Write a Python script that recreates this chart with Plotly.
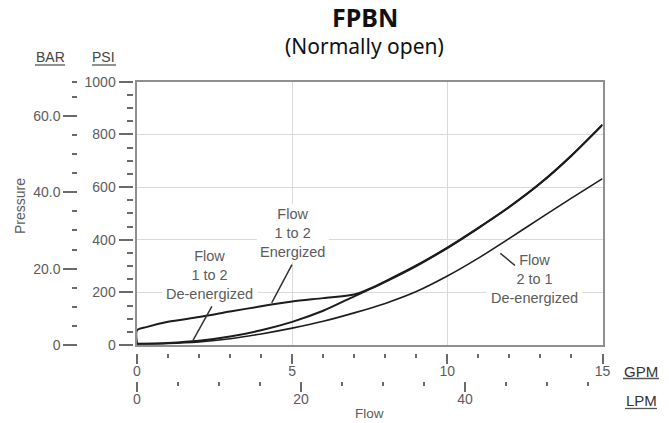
import numpy as np
import plotly.graph_objects as go

# ---------------- data ----------------
GPM_ENERGIZED = [0, 0, 0.3, 1, 2, 3, 4, 5, 6, 7, 7.5, 8, 9, 10, 11, 12, 13, 14, 15]
PSI_ENERGIZED = [5, 56, 68, 88, 106, 127, 147, 165, 178, 192, 214, 242, 302, 370, 445, 525, 615, 720, 837]

GPM_DEENERGIZED = [0, 1, 2, 3, 4, 5, 6, 7, 7.5, 8, 9, 10, 11, 12, 13, 14, 15]
PSI_DEENERGIZED = [5, 8, 16, 32, 56, 88, 130, 185, 212, 240, 300, 368, 444, 524, 614, 719, 836]

GPM_REVERSE = [0, 1, 2, 3, 4, 5, 6, 7, 8, 9, 10, 11, 12, 13, 14, 15]
PSI_REVERSE = [4, 6, 12, 24, 42, 64, 90, 122, 158, 203, 262, 330, 405, 482, 558, 632]

GPM_TICKS = [0, 5, 10, 15]
LPM_TICKS = [0, 20, 40]
PSI_TICKS = [0, 200, 400, 600, 800, 1000]
BAR_TICKS = [0, 20, 40, 60]
BAR_TICK_LABELS = ["0", "20.0", "40.0", "60.0"]

LABEL_ENERGIZED = "Flow<br>1 to 2<br>Energized"
LABEL_DEENERGIZED = "Flow<br>1 to 2<br>De-energized"
LABEL_REVERSE = "Flow<br>2 to 1<br>De-energized"

GAL_TO_L = 3.78541
PSI_PER_BAR = 14.5038
GPM_MAX = 15
PSI_MAX = 1000

# ---------------- styles ----------------
W, H = 669, 423
GRAY = "#5c5c5c"
TICK = "#6a6a6a"
FONT = "Liberation Sans"
LINE = "#1c1c1c"

def px_x(p):
    return p / W

def px_y(p):
    return (H - p) / H

XDOM = [px_x(137), px_x(602.5)]
YDOM = [px_y(345), px_y(81.7)]
GPM_PER_PX = GPM_MAX / (602.5 - 137)
PSI_PER_PX = PSI_MAX / (345 - 81.7)

fig = go.Figure()
for gx, gy, w in [(GPM_ENERGIZED, PSI_ENERGIZED, 2.0),
                  (GPM_DEENERGIZED, PSI_DEENERGIZED, 2.0),
                  (GPM_REVERSE, PSI_REVERSE, 1.6)]:
    fig.add_trace(go.Scatter(x=gx, y=gy, mode="lines",
                             line=dict(color=LINE, width=w, shape="spline", smoothing=0.8),
                             hoverinfo="skip", showlegend=False, cliponaxis=False))

# empty traces so that the secondary tick axes get drawn
for xa, ya in [("x2", "y"), ("x3", "y"), ("x", "y2"), ("x", "y3")]:
    fig.add_trace(go.Scatter(x=[], y=[], xaxis=xa, yaxis=ya, mode="lines",
                             hoverinfo="skip", showlegend=False))

lpm_max = GPM_MAX * GAL_TO_L
bar_max = PSI_MAX / PSI_PER_BAR

tickfont = dict(family=FONT, size=14, color=GRAY)

fig.update_layout(
    width=W, height=H, autosize=False,
    margin=dict(l=0, r=0, t=0, b=0, autoexpand=False),
    paper_bgcolor="white", plot_bgcolor="white",
    showlegend=False,
    xaxis=dict(domain=XDOM, range=[0, GPM_MAX], showgrid=True, dtick=5, gridcolor="#d9d9d9",
               gridwidth=1, showline=True, mirror=True, linecolor="#8f8f8f", linewidth=1.5,
               ticks="", showticklabels=False, zeroline=False, fixedrange=True),
    yaxis=dict(domain=YDOM, range=[0, PSI_MAX], showgrid=True, dtick=200, gridcolor="#d9d9d9",
               gridwidth=1, showline=True, mirror=True, linecolor="#8f8f8f", linewidth=1.5,
               ticks="", showticklabels=False, zeroline=False, fixedrange=True),
    # GPM tick axis
    xaxis2=dict(overlaying="x", anchor="free", position=px_y(352.5), side="bottom",
                range=[0, GPM_MAX], showline=False, showgrid=False, zeroline=False,
                tickmode="array", tickvals=GPM_TICKS, ticks="outside", ticklen=10,
                ticklabelstandoff=-4,
                tickwidth=1.5, tickcolor=TICK, tickfont=tickfont, fixedrange=True,
                minor=dict(tickmode="array", tickvals=list(np.arange(0, GPM_MAX + 0.01, 1)),
                           ticks="outside", ticklen=4, tickwidth=1.5, tickcolor=TICK, showgrid=False)),
    # LPM tick axis
    xaxis3=dict(overlaying="x", anchor="free", position=px_y(380.5), side="bottom",
                range=[0, lpm_max], showline=False, showgrid=False, zeroline=False,
                tickmode="array", tickvals=LPM_TICKS, ticks="outside", ticklen=10,
                ticklabelstandoff=-4,
                tickwidth=1.5, tickcolor=TICK, tickfont=tickfont, fixedrange=True,
                minor=dict(tickmode="array", tickvals=list(np.arange(0, lpm_max, 5)),
                           ticks="outside", ticklen=4, tickwidth=1.5, tickcolor=TICK, showgrid=False)),
    # PSI tick axis
    yaxis2=dict(overlaying="y", anchor="free", position=px_x(132.5), side="left",
                range=[0, PSI_MAX], showline=False, showgrid=False, zeroline=False,
                tickmode="array", tickvals=PSI_TICKS, ticks="outside", ticklen=14,
                tickwidth=1.5, tickcolor=TICK, tickfont=tickfont, fixedrange=True,
                minor=dict(tickmode="array", tickvals=list(np.arange(0, PSI_MAX + 1, 50)),
                           ticks="outside", ticklen=5.5, tickwidth=1.5, tickcolor=TICK, showgrid=False)),
    # BAR tick axis
    yaxis3=dict(overlaying="y", anchor="free", position=px_x(77.3), side="left",
                range=[0, bar_max], showline=False, showgrid=False, zeroline=False,
                tickmode="array", tickvals=BAR_TICKS, ticktext=BAR_TICK_LABELS, ticks="outside",
                ticklen=14, tickwidth=1.5, tickcolor=TICK, tickfont=tickfont, fixedrange=True,
                minor=dict(tickmode="array",
                           tickvals=list(np.arange(0, bar_max, 5)) + [bar_max],
                           ticks="outside", ticklen=5.5, tickwidth=1.5, tickcolor=TICK, showgrid=False)),
)

ann = []
def pann(text, xc, yc, size, color, family=FONT, angle=0):
    ann.append(dict(text=text, x=px_x(xc), y=px_y(yc), xref="paper", yref="paper",
                    xanchor="center", yanchor="middle", showarrow=False, textangle=angle,
                    font=dict(family=family, size=size, color=color)))

# titles
pann("<b>FPBN</b>", 365, 17, 25, "#111", "Noto Sans")
pann("(Normally open)", 365, 46, 21, "#111", "Noto Sans")
# axis headings
pann("BAR", 50, 57, 14, "#444")
pann("PSI", 104, 57, 14, "#444")
pann("GPM", 641, 371, 15, "#333")
pann("LPM", 641, 400, 15, "#333")
pann("Pressure", 20, 206, 14, GRAY, angle=-90)
pann("Flow", 369, 413, 13.5, GRAY)

# curve labels (data coords); white boxes behind them hide gridlines but not curves
lab_font = dict(family=FONT, size=14.5, color=GRAY)
shapes = []
for t, xd, yd, half_w in [(LABEL_ENERGIZED, 5.02, 425, 36), (LABEL_DEENERGIZED, 2.35, 266, 48),
                          (LABEL_REVERSE, 12.8, 251, 48)]:
    ann.append(dict(text=t, x=xd, y=yd, xref="x", yref="y", xanchor="center", yanchor="middle",
                    showarrow=False, font=lab_font))
    shapes.append(dict(type="rect", xref="x", yref="y", layer="between",
                       x0=xd - half_w * GPM_PER_PX, x1=xd + half_w * GPM_PER_PX,
                       y0=yd - 29 * PSI_PER_PX, y1=yd + 29 * PSI_PER_PX,
                       fillcolor="white", line=dict(width=0)))

# leader lines
for x0, y0, x1, y1 in [(5.02, 311, 4.34, 160), (2.44, 152, 1.80, 17), (11.66, 353, 12.18, 302)]:
    ann.append(dict(text="", x=x1, y=y1, ax=x0, ay=y0, xref="x", yref="y", axref="x", ayref="y",
                    showarrow=True, arrowhead=0, arrowwidth=1.5, arrowcolor="#333",
                    standoff=0, startstandoff=0))
fig.update_layout(annotations=ann)

# underlines for unit headings
for xc, yc, hw in [(50, 65, 15), (104, 65, 12), (641, 378.5, 18), (641, 408.5, 16)]:
    shapes.append(dict(type="line", xref="paper", yref="paper", x0=px_x(xc - hw), x1=px_x(xc + hw),
                       y0=px_y(yc), y1=px_y(yc), line=dict(color="#555", width=1.3)))
fig.update_layout(shapes=shapes)

fig.write_html("out.html", config={"responsive": False, "displayModeBar": False},
               post_script="document.body.style.margin='0';document.body.style.overflow='hidden';")
